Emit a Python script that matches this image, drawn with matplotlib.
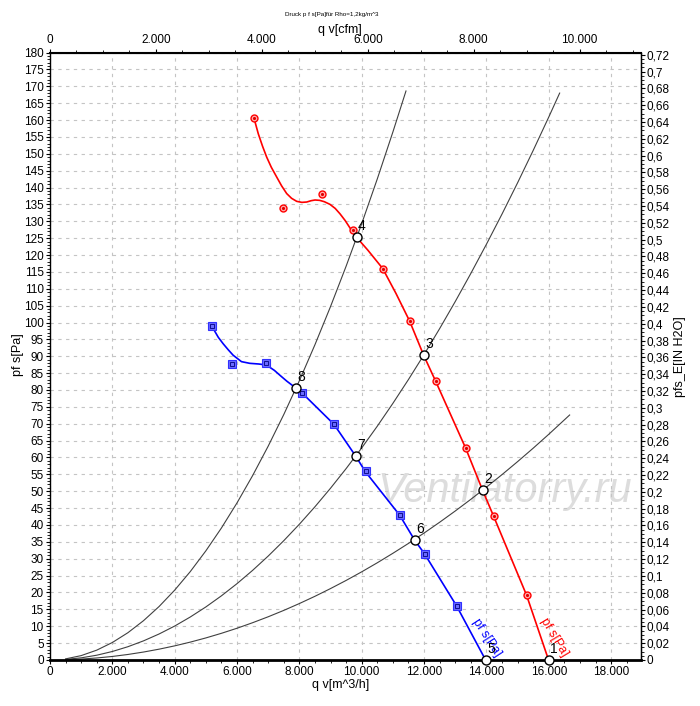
import matplotlib
matplotlib.use("Agg")
import matplotlib.pyplot as plt
from matplotlib.ticker import MultipleLocator, FixedLocator, FuncFormatter

plt.rcParams['font.family'] = ['Liberation Sans', 'DejaVu Sans']

# fan curve pfs for the higher speed (red)
red_q = [6540, 6683, 6820, 6952, 7100, 7273, 7430, 7594, 7750, 7915, 8080, 8235,
         8380, 8502, 8650, 8800, 8983, 9150, 9304, 9470, 9625, 9840, 10200, 10673,
         11100, 11538, 11987, 12372, 13333, 13878, 14231, 15288, 15994]
red_p = [160.7, 155.9, 152.2, 149.0, 146.0, 143.1, 140.5, 138.2, 136.8, 135.9, 135.6, 135.7,
         136.1, 136.3, 136.2, 135.8, 135.0, 133.8, 132.2, 130.2, 128.0, 125.2, 121.4, 116.0,
         108.6, 100.4, 90.3, 82.6, 62.8, 50.3, 42.6, 19.2, 0.0]
red_mq = [6538, 7468, 8718, 9711, 10673, 11538, 12372, 13333, 14231, 15288]
red_mp = [160.7, 133.8, 138.0, 127.3, 116.0, 100.4, 82.6, 62.8, 42.6, 19.2]

# fan curve pfs for the lower speed (blue)
blue_q = [5192, 5400, 5556, 5720, 5876, 6143, 6410, 6700, 6944, 7200, 7372, 7600,
          7885, 8100, 9113, 9808, 10117, 11218, 11699, 12019, 13045, 13974]
blue_p = [98.9, 95.6, 93.7, 91.9, 90.3, 88.4, 87.9, 87.7, 87.4, 85.8, 84.4, 82.6,
          80.6, 79.0, 69.8, 60.4, 55.8, 42.9, 35.5, 31.4, 16.0, 0.0]
blue_mq = [5192, 5833, 6923, 8077, 9103, 10128, 11218, 12019, 13045]
blue_mp = [98.9, 87.6, 87.9, 79.0, 69.9, 56.0, 42.9, 31.4, 16.0]

# system curves (black), read at 500 m3/h steps
sys_q1 = [500, 1000, 1500, 2000, 2500, 3000, 3500, 4000, 4500, 5000, 5500, 6000,
          6500, 7000, 7500, 8000, 8500, 9000, 9500, 10000, 10500, 11000, 11420]
sys_p1 = [0.32, 1.29, 2.91, 5.17, 8.08, 11.64, 15.84, 20.69, 26.18, 32.33, 39.11, 46.55,
          54.63, 63.36, 72.73, 82.75, 93.42, 104.73, 116.69, 129.3, 142.55, 156.45, 168.6]
sys_q2 = [500, 1000, 1500, 2000, 2500, 3000, 3500, 4000, 4500, 5000, 5500, 6000,
          6500, 7000, 7500, 8000, 8500, 9000, 9500, 10000, 10500, 11000, 11500, 12000,
          12500, 13000, 13500, 14000, 14500, 15000, 15500, 16000, 16350]
sys_p2 = [0.16, 0.63, 1.41, 2.51, 3.93, 5.66, 7.70, 10.05, 12.73, 15.71, 19.01, 22.62,
          26.55, 30.79, 35.35, 40.22, 45.40, 50.90, 56.71, 62.84, 69.28, 76.04, 83.11, 90.49,
          98.19, 106.2, 114.53, 123.17, 132.12, 141.39, 150.97, 160.87, 167.98]
sys_q3 = [500, 1000, 1500, 2000, 2500, 3000, 3500, 4000, 4500, 5000, 5500, 6000,
          6500, 7000, 7500, 8000, 8500, 9000, 9500, 10000, 10500, 11000, 11500, 12000,
          12500, 13000, 13500, 14000, 14500, 15000, 15500, 16000, 16670]
sys_p3 = [0.07, 0.26, 0.59, 1.04, 1.63, 2.35, 3.20, 4.18, 5.29, 6.53, 7.90, 9.40,
          11.04, 12.80, 14.69, 16.72, 18.87, 21.16, 23.57, 26.12, 28.80, 31.61, 34.54, 37.61,
          40.81, 44.14, 47.60, 51.20, 54.92, 58.77, 62.75, 66.87, 72.59]

# operating points
op_q = [15994, 13878, 11987, 9840, 13974, 11699, 9808, 7885]
op_p = [0.0, 50.3, 90.3, 125.2, 0.0, 35.5, 60.3, 80.6]
op_lab = ['1', '2', '3', '4', '5', '6', '7', '8']

# tick values
bottom_ticks = [0, 2000, 4000, 6000, 8000, 10000, 12000, 14000, 16000, 18000]
top_ticks = [0, 2000, 4000, 6000, 8000, 10000]

CFM = 1.699      # m3/h per cfm
INH2O = 249.09   # Pa per inch H2O

fig = plt.figure(figsize=(7, 7.06), dpi=100)
ax = fig.add_axes([0.0714, 0.0652, 0.8439, 0.8604])
ax.set_xlim(0, 18950)
ax.set_ylim(0, 180)

ax.grid(True, which='major', linestyle=(0, (3, 4)), color='#c4c4c4', lw=0.8)
ax.set_axisbelow(True)

# watermark
ax.text(14600, 50, 'Ventilatorry.ru', fontsize=30, style='italic', color='#dddddd',
        ha='center', va='center', zorder=0.5)

for q, p in [(sys_q1, sys_p1), (sys_q2, sys_p2), (sys_q3, sys_p3)]:
    ax.plot(q, p, color='#404040', lw=0.8, zorder=2)

ax.plot(red_q, red_p, color='#ff0000', lw=1.2, zorder=3)
ax.plot(red_mq, red_mp, 'o', ms=5, mfc='#ffb0b0', mec='#ff0000', mew=1.0, zorder=4)
ax.plot(red_mq, red_mp, '.', ms=2.5, color='#e00000', zorder=5)

ax.plot(blue_q, blue_p, color='#0000ff', lw=1.2, zorder=3)
ax.plot(blue_mq, blue_mp, 's', ms=5.5, mfc='#6a6aff', mec='#3030ff', mew=0.8, zorder=4)
ax.plot(blue_mq, blue_mp, 's', ms=2.5, mfc='none', mec='#000080', mew=0.6, zorder=5)

ax.plot(op_q, op_p, 'o', ms=6.5, mfc='white', mec='black', mew=1.0, zorder=6, clip_on=False)
for q, p, t in zip(op_q, op_p, op_lab):
    ax.annotate(t, (q, p), xytext=(1, 3), textcoords='offset points', fontsize=10,
                ha='left', va='bottom', zorder=7, annotation_clip=False)

# curve names written along the lines
ax.text(13550, 11.5, 'pf s[Pa]', color='#0000ff', fontsize=9, rotation=-57,
        rotation_mode='anchor', ha='left', va='baseline', zorder=6)
ax.text(15750, 11.8, 'pf s[Pa]', color='#ff0000', fontsize=9, rotation=-59,
        rotation_mode='anchor', ha='left', va='baseline', zorder=6)

# axes formatting
thou = FuncFormatter(lambda v, pos: f"{int(round(v)):,}".replace(',', '.'))
ax.xaxis.set_major_locator(FixedLocator(bottom_ticks))
ax.xaxis.set_minor_locator(MultipleLocator(500))
ax.xaxis.set_major_formatter(thou)
ax.yaxis.set_major_locator(MultipleLocator(5))
ax.yaxis.set_minor_locator(MultipleLocator(1))
ax.tick_params(axis='both', which='major', labelsize=8.5, length=3, direction='out', pad=1.5)
ax.tick_params(axis='both', which='minor', length=2, direction='out')
ax.spines['bottom'].set_linewidth(2)
ax.spines['top'].set_linewidth(1.5)
ax.spines['left'].set_linewidth(1)
ax.spines['right'].set_linewidth(1)

top = ax.secondary_xaxis('top', functions=(lambda v: v / CFM, lambda v: v * CFM))
top.xaxis.set_major_locator(FixedLocator(top_ticks))
top.xaxis.set_minor_locator(MultipleLocator(500))
top.xaxis.set_major_formatter(thou)
top.tick_params(which='major', labelsize=8.5, length=3, pad=1.5)
top.tick_params(which='minor', length=2)

right = ax.secondary_yaxis('right', functions=(lambda v: v / INH2O, lambda v: v * INH2O))
right.yaxis.set_major_locator(MultipleLocator(0.02))
right.yaxis.set_minor_locator(MultipleLocator(0.005))
right.yaxis.set_major_formatter(FuncFormatter(lambda v, pos: f"{round(v, 2):g}".replace('.', ',')))
right.tick_params(which='major', labelsize=8.5, length=3, pad=1.5)
right.tick_params(which='minor', length=2)

fig.text(0.474, 0.979, 'Druck p f s[Pa]für Rho=1,2kg/m^3', fontsize=4.5, ha='center', va='center')
fig.text(0.486, 0.957, 'q v[cfm]', fontsize=9, ha='center', va='center')
fig.text(0.486, 0.030, 'q v[m^3/h]', fontsize=9, ha='center', va='center')
fig.text(0.026, 0.497, 'pf s[Pa]', fontsize=9, rotation=90, ha='center', va='center')
fig.text(0.972, 0.495, 'pfs_E[IN H2O]', fontsize=9, rotation=90, ha='center', va='center')

fig.savefig('out.png', dpi=100)
